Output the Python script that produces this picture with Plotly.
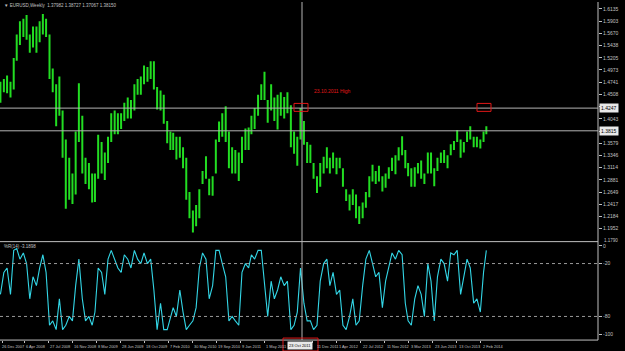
import plotly.graph_objects as go

# ---------------- data ----------------
bar_dates = ["2007-12-16"] + [f"{y}-{m:02d}-{d:02d}" for y in range(2008, 2014)
                              for m in range(1, 13) for d in (1, 16)] + \
            ["2014-01-01", "2014-01-16", "2014-02-01", "2014-02-16", "2014-03-01"]

high = [1.4750,
        1.4800, 1.4870, 1.4750, 1.5200, 1.5650, 1.5900, 1.5950, 1.6020, 1.5650, 1.5800, 1.5800, 1.5900,
        1.6040, 1.5950, 1.5650, 1.5000, 1.4700, 1.4850, 1.4200, 1.3650, 1.3300, 1.3000, 1.3800, 1.4720,
        1.4100, 1.3300, 1.3200, 1.3000, 1.3000, 1.3740, 1.3600, 1.3400, 1.3700, 1.4150, 1.4200, 1.4150,
        1.4150, 1.4350, 1.4450, 1.4400, 1.4700, 1.4800, 1.4850, 1.5060, 1.5030, 1.5140, 1.5140, 1.4650,
        1.4580, 1.4500, 1.4000, 1.3800, 1.3780, 1.3700, 1.3700, 1.3500, 1.3300, 1.2650, 1.2300, 1.2400,
        1.2700, 1.3050, 1.3330, 1.2900, 1.2950, 1.3650, 1.3990, 1.4150, 1.4280, 1.3800, 1.3500, 1.3450,
        1.3400, 1.3700, 1.3860, 1.3880, 1.4100, 1.4250, 1.4500, 1.4700, 1.4940, 1.4400, 1.4700, 1.4450,
        1.4500, 1.4550, 1.4460, 1.4550, 1.4300, 1.3800, 1.3700, 1.4247, 1.4000, 1.3600, 1.3550, 1.3200,
        1.2950, 1.3200, 1.3320, 1.3500, 1.3300, 1.3400, 1.3300, 1.3300, 1.3100, 1.2700, 1.2600, 1.2700,
        1.2600, 1.2380, 1.2450, 1.2650, 1.2950, 1.3170, 1.3050, 1.3150, 1.2950, 1.3000, 1.3120, 1.3300,
        1.3350, 1.3500, 1.3710, 1.3450, 1.3200, 1.3100, 1.3120, 1.3200, 1.3250, 1.3000, 1.3400, 1.3400,
        1.3100, 1.3300, 1.3400, 1.3450, 1.3350, 1.3560, 1.3620, 1.3830, 1.3650, 1.3600, 1.3800, 1.3900,
        1.3700, 1.3700, 1.3650, 1.3800, 1.3900]

low = [1.4350,
       1.4550, 1.4530, 1.4450, 1.4600, 1.5150, 1.5450, 1.5600, 1.5550, 1.5300, 1.5400, 1.5300, 1.5500,
       1.5650, 1.5600, 1.4800, 1.4550, 1.3900, 1.4100, 1.3300, 1.2330, 1.2500, 1.2420, 1.2600, 1.3600,
       1.3000, 1.2800, 1.2700, 1.2450, 1.2460, 1.2900, 1.3000, 1.2880, 1.3200, 1.3600, 1.3750, 1.3750,
       1.3850, 1.4000, 1.4050, 1.4050, 1.4200, 1.4500, 1.4500, 1.4700, 1.4750, 1.4800, 1.4600, 1.4220,
       1.4200, 1.3950, 1.3580, 1.3450, 1.3450, 1.3270, 1.3300, 1.3100, 1.2500, 1.2150, 1.1880, 1.2000,
       1.2150, 1.2800, 1.2900, 1.2590, 1.2580, 1.3000, 1.3600, 1.3700, 1.3600, 1.3100, 1.3000, 1.3000,
       1.2860, 1.3200, 1.3450, 1.3450, 1.3750, 1.3850, 1.4100, 1.4400, 1.4400, 1.3970, 1.4200, 1.4000,
       1.3840, 1.4100, 1.4050, 1.4150, 1.3500, 1.3380, 1.3150, 1.3650, 1.3550, 1.3200, 1.3200, 1.2900,
       1.2630, 1.2750, 1.3000, 1.3100, 1.3000, 1.3100, 1.2990, 1.3100, 1.2750, 1.2480, 1.2300, 1.2400,
       1.2150, 1.2040, 1.2150, 1.2350, 1.2550, 1.2850, 1.2800, 1.2850, 1.2660, 1.2730, 1.2900, 1.3050,
       1.2990, 1.3250, 1.3350, 1.3100, 1.2950, 1.2750, 1.2750, 1.3000, 1.2900, 1.2800, 1.3000, 1.3000,
       1.2760, 1.3050, 1.3200, 1.3200, 1.3100, 1.3350, 1.3450, 1.3600, 1.3300, 1.3400, 1.3600, 1.3650,
       1.3500, 1.3500, 1.3480, 1.3600, 1.3750]

wpr = [-55,
       -30, -25, -55, -5, -3, -15, -8, -20, -60, -35, -45, -25,
       -10, -30, -90, -85, -95, -60, -95, -90, -80, -85, -45, -15,
       -60, -85, -80, -90, -75, -25, -30, -55, -15, -5, -15, -25,
       -30, -10, -15, -25, -5, -15, -20, -8, -20, -15, -50, -95,
       -65, -95, -95, -80, -70, -80, -50, -75, -95, -90, -85, -70,
       -25, -8, -15, -60, -45, -5, -5, -20, -35, -85, -80, -85,
       -90, -30, -20, -25, -10, -15, -5, -5, -40, -80, -40, -60,
       -50, -35, -45, -40, -95, -90, -75, -25, -65, -85, -85, -95,
       -90, -40, -20, -15, -45, -30, -55, -50, -90, -95, -80, -60,
       -90, -85, -45, -15, -5, -20, -35, -30, -70, -40, -25, -8,
       -15, -5, -10, -65, -85, -90, -60, -45, -55, -80, -20, -40,
       -85, -35, -15, -20, -40, -8, -10, -5, -55, -35, -15, -25,
       -65, -60, -75, -30, -5]

price_ticks = [1.6135, 1.5903, 1.5670, 1.5438, 1.5205, 1.4973, 1.4741, 1.4508, 1.4276, 1.4043,
               1.3811, 1.3579, 1.3346, 1.3114, 1.2881, 1.2649, 1.2417, 1.2184, 1.1952]
# labels hidden behind the highlighted price boxes are left blank
price_tick_text = ["1.6135", "1.5903", "1.5670", "1.5438", "1.5205", "1.4973", "1.4741", "1.4508", "",
                   "1.4043", "", "1.3579", "1.3346", "1.3114", "1.2881", "1.2649", "1.2417", "1.2184",
                   "1.1952"]

wpr_ticks = [0, -20, -80, -100]
wpr_tick_text = ["0", "-20", "-80", "-100"]

date_label_dates = ["2007-12-26", "2008-04-06", "2008-07-27", "2008-11-16", "2009-03-08", "2009-06-28",
                    "2009-10-18", "2010-02-07", "2010-05-30", "2010-09-19", "2011-01-09", "2011-05-01",
                    "2011-12-11", "2012-04-01", "2012-07-22", "2012-11-11", "2013-03-03",
                    "2013-06-23", "2013-10-13", "2014-02-02"]
date_label_text = ["26 Dec 2007", "6 Apr 2008", "27 Jul 2008", "16 Nov 2008", "8 Mar 2009", "28 Jun 2009",
                   "18 Oct 2009", "7 Feb 2010", "30 May 2010", "19 Sep 2010", "9 Jan 2011", "1 May 2011",
                   "11 Dec 2011", "1 Apr 2012", "22 Jul 2012", "11 Nov 2012", "3 Mar 2013",
                   "23 Jun 2013", "13 Oct 2013", "2 Feb 2014"]

cross_date = "2011-10-23"
cross_label = "23 Oct 2011"
cross_price = 1.4247
last_price = 1.3815
header = "\u25bc EURUSD,Weekly  1.37982 1.38727 1.37067 1.38150"
wpr_title = "%R(14) -3.1898"

# ---------------- layout helpers ----------------
W, H = 625, 351
def px(v): return v / W
def py(v): return 1 - v / H

FONT = "Liberation Sans"
GREY = "#c0c0c0"

bx, by = [], []
for d, h, l in zip(bar_dates, high, low):
    bx += [d, d, None]
    by += [l, h, None]

fig = go.Figure()
fig.add_trace(go.Scatter(x=bx, y=by, mode="lines", line=dict(color="#22dd22", width=2.0),
                         yaxis="y", hoverinfo="skip", showlegend=False))
fig.add_trace(go.Scatter(x=bar_dates, y=wpr, mode="lines", line=dict(color="#33d6e6", width=1.1),
                         yaxis="y2", hoverinfo="skip", showlegend=False))

shapes = []
shapes.append(dict(type="line", xref="paper", yref="paper", x0=px(598), x1=px(598), y0=py(0), y1=py(340),
                   line=dict(color=GREY, width=1)))
shapes.append(dict(type="line", xref="paper", yref="paper", x0=0, x1=px(598), y0=py(241), y1=py(241),
                   line=dict(color=GREY, width=1)))
shapes.append(dict(type="line", xref="paper", yref="paper", x0=0, x1=px(598), y0=py(340), y1=py(340),
                   line=dict(color=GREY, width=1)))
for lv in (-20, -80):
    shapes.append(dict(type="line", xref="paper", yref="y2", x0=0, x1=px(598), y0=lv, y1=lv,
                       line=dict(color="#9a9a9a", width=1, dash="dot")))
shapes.append(dict(type="line", xref="x", yref="paper", x0=cross_date, x1=cross_date, y0=py(340), y1=1,
                   line=dict(color="#b4b4b4", width=1)))
shapes.append(dict(type="line", xref="paper", yref="y", x0=0, x1=px(598), y0=cross_price, y1=cross_price,
                   line=dict(color="#b4b4b4", width=1)))
shapes.append(dict(type="line", xref="paper", yref="y", x0=0, x1=px(598), y0=last_price, y1=last_price,
                   line=dict(color="#b4b4b4", width=1)))
RED = "#e01818"
for (x0, x1, y0, y1) in [(294, 308, 102, 110), (477, 491, 102, 110), (283, 318, 338, 351)]:
    shapes.append(dict(type="rect", xref="paper", yref="paper", x0=px(x0), x1=px(x1), y0=py(y1), y1=py(y0),
                       line=dict(color=RED, width=1), fillcolor="rgba(0,0,0,0)"))

ann = []
for i, (d, t) in enumerate(zip(date_label_dates, date_label_text)):
    xs = 2 if t == "11 Dec 2011" else 0
    if i == 0:
        ann.append(dict(x=0, xref="paper", y=py(346), yref="paper", text=t, showarrow=False,
                        xanchor="left", yanchor="middle", font=dict(family=FONT, size=3.9, color=GREY)))
    else:
        ann.append(dict(x=d, xref="x", y=py(346), yref="paper", text=t, showarrow=False, xanchor="left",
                        yanchor="middle", xshift=xs, font=dict(family=FONT, size=3.9, color=GREY)))
ann.append(dict(x=px(300), xref="paper", y=py(345.5), yref="paper", text=cross_label, showarrow=False,
                xanchor="center", yanchor="middle", bgcolor="#e8e8e8", borderpad=1,
                font=dict(family=FONT, size=4, color="#000000")))
ann.append(dict(x=px(599), xref="paper", y=cross_price, yref="y", text=f"{cross_price:.4f}", showarrow=False,
                xanchor="left", yanchor="middle", bgcolor="#e8e8e8", borderpad=1,
                font=dict(family=FONT, size=5, color="#000000")))
ann.append(dict(x=px(599), xref="paper", y=last_price, yref="y", text=f"{last_price:.4f}", showarrow=False,
                xanchor="left", yanchor="middle", bgcolor="#e8e8e8", borderpad=1,
                font=dict(family=FONT, size=5, color="#000000")))
ann.append(dict(x=px(312), xref="paper", y=py(90), yref="paper", text="23.10.2011 High", showarrow=False,
                xanchor="left", yanchor="middle", font=dict(family=FONT, size=5, color=RED)))
ann.append(dict(x=px(2), xref="paper", y=py(4), yref="paper", text=header, showarrow=False,
                xanchor="left", yanchor="middle", font=dict(family=FONT, size=4.5, color=GREY)))
ann.append(dict(x=px(2), xref="paper", y=py(246), yref="paper", text=wpr_title, showarrow=False,
                xanchor="left", yanchor="middle", font=dict(family=FONT, size=4.5, color=GREY)))
ann.append(dict(x=px(602), xref="paper", y=py(240), yref="paper", text="1.1790", showarrow=False,
                xanchor="left", yanchor="middle", font=dict(family=FONT, size=4.5, color=GREY)))

fig.update_layout(
    width=W, height=H, margin=dict(l=0, r=0, t=0, b=0),
    paper_bgcolor="#000000", plot_bgcolor="#000000",
    xaxis=dict(domain=[0, px(598)], range=["2007-12-14", "2015-08-04"], anchor="y2", type="date",
               tickvals=date_label_dates, showticklabels=False, ticks="outside", ticklen=2,
               tickcolor=GREY, showgrid=False, zeroline=False, showline=False),
    yaxis=dict(domain=[py(240), 1], range=[1.1724, 1.6267], side="right", anchor="x",
               tickvals=price_ticks, ticktext=price_tick_text, ticks="outside", ticklen=3,
               tickcolor=GREY, tickfont=dict(family=FONT, size=5, color=GREY),
               showgrid=False, zeroline=False, showline=False),
    yaxis2=dict(domain=[py(340), py(244)], range=[-106.8, 1.5], side="right", anchor="x",
                tickvals=wpr_ticks, ticktext=wpr_tick_text, ticks="outside", ticklen=3,
                tickcolor=GREY, tickfont=dict(family=FONT, size=5, color=GREY),
                showgrid=False, zeroline=False, showline=False),
    shapes=shapes, annotations=ann, showlegend=False,
)

fig.write_html("out.html")
